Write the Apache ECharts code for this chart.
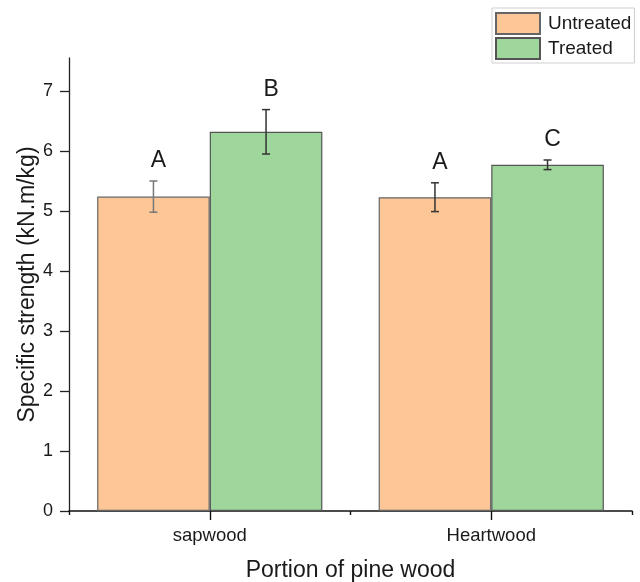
<!DOCTYPE html>
<html>
<head>
<meta charset="utf-8">
<script src="https://cdn.jsdelivr.net/npm/echarts@6/dist/echarts.min.js"></script>
<style>html,body{margin:0;padding:0;background:#fff}#c{width:640px;height:582px}</style>
</head>
<body>
<div id="c"></div>
<script>
// ---- data ----
const categories = ['sapwood', 'Heartwood'];
const seriesNames = ['Untreated', 'Treated'];
const untreated = [5.24, 5.23];
const treated = [6.32, 5.77];
const untreatedErr = [0.26, 0.24];
const treatedErr = [0.37, 0.08];
const untreatedLetters = ['A', 'A'];
const treatedLetters = ['B', 'C'];
const yTicks = [0, 1, 2, 3, 4, 5, 6, 7];

const FONT = "'Liberation Sans', Arial, sans-serif";
const TXT = '#1a1a1a';

const errData = [];
const errLetters = [];
const errColors = [];
categories.forEach((c, i) => {
  errData.push([i, untreated[i] - untreatedErr[i], untreated[i] + untreatedErr[i], 0]);
  errLetters.push(untreatedLetters[i]);
  errColors.push(i === 0 ? '#777' : '#333');
  errData.push([i, treated[i] - treatedErr[i], treated[i] + treatedErr[i], 1]);
  errLetters.push(treatedLetters[i]);
  errColors.push('#333');
});

const chart = echarts.init(document.getElementById('c'), null, {renderer: 'canvas'});
chart.setOption({
  animation: false,
  backgroundColor: '#fff',
  textStyle: {fontFamily: FONT},
  grid: {left: 69, right: 8, top: 58, bottom: 71, containLabel: false, outerBoundsMode: 'none'},
  legend: {
    data: seriesNames,
    orient: 'vertical',
    left: 492, top: 8,
    padding: [4, 3, 3, 3],
    itemGap: 2,
    itemWidth: 44, itemHeight: 21,
    icon: 'rect',
    borderColor: '#cfcfcf', borderWidth: 1,
    textStyle: {fontFamily: FONT, fontSize: 19, color: TXT, padding: [0, 0, 0, 3]}
  },
  xAxis: [{
    type: 'category',
    data: categories,
    position: 'bottom',
    boundaryGap: true,
    name: 'Portion of pine wood',
    nameLocation: 'middle',
    nameGap: 48,
    nameMoveOverlap: false,
    nameTextStyle: {fontFamily: FONT, fontSize: 23, color: TXT},
    axisLine: {show: true, lineStyle: {color: '#111', width: 1.5}},
    axisTick: {show: true, alignWithLabel: true, length: 9, lineStyle: {color: '#111', width: 1.4}},
    axisLabel: {fontFamily: FONT, fontSize: 18.5, color: TXT, margin: 15},
    splitLine: {show: false}
  }, {
    type: 'category',
    data: categories,
    position: 'bottom',
    boundaryGap: true,
    axisLine: {show: false},
    axisTick: {show: true, alignWithLabel: false, length: 4, lineStyle: {color: '#111', width: 1.4}},
    axisLabel: {show: false},
    splitLine: {show: false}
  }],
  yAxis: {
    type: 'value',
    min: 0, max: 7.55, interval: 1,
    name: 'Specific strength (kN.m/kg)',
    nameLocation: 'middle',
    nameGap: 30,
    nameMoveOverlap: false,
    nameRotate: 90,
    nameTextStyle: {fontFamily: FONT, fontSize: 23, color: TXT},
    axisLine: {show: true, lineStyle: {color: '#222', width: 1.3}},
    axisTick: {show: true, length: 9, lineStyle: {color: '#222', width: 1.3}, customValues: yTicks},
    axisLabel: {fontFamily: FONT, fontSize: 18, color: TXT, margin: 16, customValues: yTicks},
    splitLine: {show: false}
  },
  series: [{
    name: seriesNames[0],
    type: 'bar',
    data: untreated,
    barGap: '0%',
    barCategoryGap: '20%',
    itemStyle: {color: '#FDC697', borderColor: '#666', borderWidth: 1.2}
  }, {
    name: seriesNames[1],
    type: 'bar',
    data: treated,
    barGap: '0%',
    barCategoryGap: '20%',
    itemStyle: {color: '#9ED69C', borderColor: '#555', borderWidth: 1.2}
  }, {
    type: 'custom',
    name: 'err',
    data: errData,
    z: 10,
    encode: {x: 0, y: [1, 2]},
    renderItem: function (params, api) {
      const cat = api.value(0), lo = api.value(1), hi = api.value(2), side = api.value(3);
      const cw = api.size([1, 0])[0];
      const off = side === 0 ? -cw * 0.2 : cw * 0.2;
      const pLo = api.coord([cat, lo]);
      const pHi = api.coord([cat, hi]);
      const x = pLo[0] + off;
      const col = errColors[params.dataIndex];
      const st = {stroke: col, lineWidth: 1.5};
      const cap = 4;
      return {
        type: 'group',
        children: [
          {type: 'line', shape: {x1: x, y1: pLo[1], x2: x, y2: pHi[1]}, style: st},
          {type: 'line', shape: {x1: x - cap, y1: pHi[1], x2: x + cap, y2: pHi[1]}, style: st},
          {type: 'line', shape: {x1: x - cap, y1: pLo[1], x2: x + cap, y2: pLo[1]}, style: st},
          {type: 'text', x: x + 5, y: pHi[1] - 20,
           style: {text: errLetters[params.dataIndex], fill: TXT, font: '23px ' + FONT,
                   textAlign: 'center', textVerticalAlign: 'middle'}}
        ]
      };
    }
  }]
});
</script>
</body>
</html>
